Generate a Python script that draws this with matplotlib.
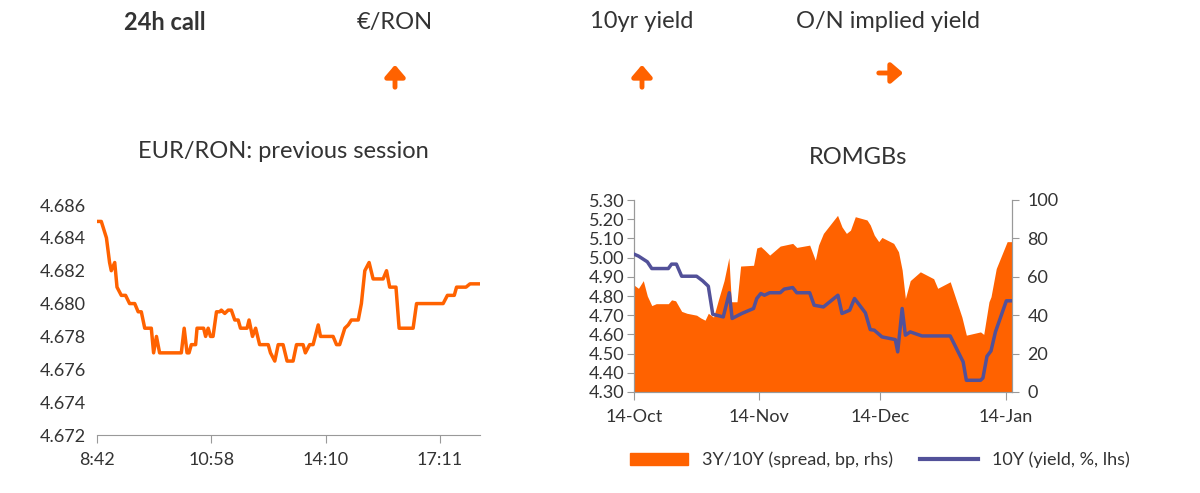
import numpy as np
import matplotlib
matplotlib.use('Agg')
import matplotlib.pyplot as plt
from matplotlib.patches import Patch, FancyArrowPatch
from matplotlib.lines import Line2D

plt.rcParams['font.family'] = ['Lato', 'DejaVu Sans']

ORANGE = '#FF6200'
BLUE = '#525199'
GREY = '#999999'
TXT = '#333333'

# EUR/RON intraday (x = tick index, ticks every 40)
eur_x = [0, 1.5, 3.3, 4.4, 5, 6.2, 7, 8.5, 9.3, 10, 11.4, 13.2, 14.4, 15.5, 16.7, 19, 19.8, 20.8,
         21.9, 29.5, 30.5, 31.5, 32.2, 33, 34.5, 35, 37.3, 38, 38.9, 39.7, 40.6, 41.8, 42.9, 43.5,
         44.7, 45.9, 47, 48.2, 49.4, 50.2, 52.5, 53.2, 54.4, 55.5, 56.9, 59.9, 60.7, 62.2, 63.4,
         65.1, 66.5, 68.6, 69.8, 72.1, 72.9, 74.4, 75.6, 77.4, 78.2, 82.6, 83.8, 84.9, 86.7, 87.9,
         89, 91.4, 92.5, 93.7, 95.2, 96.6, 100.1, 101.3, 102.4, 104.6, 105.7, 110.6, 111.8, 121.1,
         122.6, 125, 125.8, 129.1, 130.5, 133.7]
eur_y = [4.685, 4.685, 4.684, 4.6825, 4.682, 4.6825, 4.681, 4.6805, 4.6805, 4.6805, 4.680, 4.680,
         4.6795, 4.6795, 4.6785, 4.6785, 4.677, 4.678, 4.677, 4.677, 4.6785, 4.677, 4.677, 4.6775,
         4.6775, 4.6785, 4.6785, 4.678, 4.6785, 4.678, 4.678, 4.6795, 4.6795, 4.6796, 4.6794,
         4.6796, 4.6796, 4.679, 4.679, 4.6785, 4.6785, 4.679, 4.678, 4.6785, 4.6775, 4.6775,
         4.677, 4.6765, 4.6775, 4.6775, 4.6765, 4.6765, 4.6775, 4.6775, 4.677, 4.6775, 4.6775,
         4.6787, 4.678, 4.678, 4.6775, 4.6775, 4.6785, 4.6787, 4.679, 4.679, 4.680, 4.682, 4.6825,
         4.6815, 4.6815, 4.682, 4.681, 4.681, 4.6785, 4.6785, 4.680, 4.680, 4.6805, 4.6805, 4.681,
         4.681, 4.6812, 4.6812]
eur_ticks = [0, 40, 80, 120]
eur_labels = ['8:42', '10:58', '14:10', '17:11']

# ROMGBs (x = days since 14-Oct)
spr_x = [0, 1.1, 2.3, 3.3, 4.4, 5.5, 8.5, 9.3, 10.3, 11.8, 13.1, 15.5, 16.5, 17.6, 18.4, 19.7, 20.9,
         22.3, 23.5, 24.1, 25.5, 26.4, 29.6, 30.4, 31.4, 32.3, 33.6, 36.2, 39.3, 40.3, 43.5, 44.9,
         45.7, 46.9, 50.4, 51.5, 52.6, 53.6, 54.8, 57.7, 58.5, 59.5, 60.6, 61.4, 64.3, 65.5, 66.4,
         67.2, 68.4, 70.9, 74.2, 75.2, 78.3, 81.2, 82.3, 85.8, 86.6, 87.9, 88.4, 89.7, 92.4, 93.6]
spr_y = [55.7, 54, 58, 50, 45, 46, 46, 48, 47.5, 42, 41, 40, 38.6, 37.4, 41, 39, 48, 58, 70, 47, 47,
         65.6, 66, 75, 75.7, 74, 71.3, 76, 77.4, 75.3, 76.5, 68.7, 76.5, 82.6, 92, 86, 82.6, 84.3,
         91.3, 89.6, 87, 81.7, 78.3, 80.5, 77.4, 73, 63.5, 48.7, 58, 62.6, 59, 54, 57.4, 39, 29.6,
         31.3, 30, 47, 49.6, 64.3, 78.3, 78.3]
yld_x = [0, 1.1, 3.3, 4.4, 8.5, 9.3, 10.5, 11.8, 15.5, 17, 18.4, 19.5, 22.1, 23.6, 24.3, 26.7, 29.6,
         30.4, 31.4, 32.3, 33.6, 36.2, 37.2, 39.3, 40.3, 43.5, 44.6, 46.9, 50.5, 51.5, 53.4, 54.6,
         57.3, 58.5, 59.5, 61.4, 64.7, 65.3, 66.4, 67.2, 68.4, 71.3, 78.3, 81.5, 82.3, 85.8, 86.4,
         87.4, 88.4, 89.5, 92.2, 93.6]
yld_y = [5.018, 5.008, 4.978, 4.943, 4.943, 4.966, 4.966, 4.903, 4.903, 4.879, 4.851, 4.705, 4.691,
         4.817, 4.683, 4.709, 4.735, 4.787, 4.813, 4.804, 4.817, 4.817, 4.836, 4.844, 4.817, 4.817,
         4.752, 4.743, 4.804, 4.709, 4.726, 4.787, 4.712, 4.625, 4.622, 4.587, 4.573, 4.509, 4.735,
         4.596, 4.613, 4.592, 4.592, 4.457, 4.361, 4.361, 4.373, 4.486, 4.514, 4.613, 4.775, 4.775]
date_ticks = [0, 31, 61, 92]
date_labels = ['14-Oct', '14-Nov', '14-Dec', '14-Jan']

fig = plt.figure(figsize=(12, 4.93), dpi=100)

# header
fig.text(165/1200, 1-22/493, '24h call', fontsize=17, fontweight='bold', color=TXT, ha='center', va='center')
for xp, lab in [(395, '€/RON'), (642, '10yr yield'), (888, 'O/N implied yield')]:
    fig.text(xp/1200, 1-22/493, lab, fontsize=17, color=TXT, ha='center', va='center')
for x0, y0, x1, y1 in [(395, 90, 395, 62), (642, 90, 642, 62), (876, 73, 906, 73)]:
    fig.add_artist(FancyArrowPatch((x0/1200, 1-y0/493), (x1/1200, 1-y1/493),
                                   transform=fig.transFigure, arrowstyle='-|>,head_width=6,head_length=7',
                                   color=ORANGE, lw=3.5, mutation_scale=1))

fig.text(283/1200, 1-152/493, 'EUR/RON: previous session', fontsize=17, color=TXT, ha='center', va='center')
fig.text(858/1200, 1-157/493, 'ROMGBs', fontsize=17, color=TXT, ha='center', va='center')

# left chart
ax = fig.add_axes([97/1200, 58/493, 383/1200, 230/493])
ax.plot(eur_x, eur_y, color=ORANGE, lw=2.5)
ax.set_xlim(0, 134)
ax.set_ylim(4.672, 4.686)
ax.set_yticks(np.arange(4.672, 4.6861, 0.002))
ax.set_yticklabels(['%.3f' % v for v in np.arange(4.672, 4.6861, 0.002)])
ax.set_xticks(eur_ticks)
ax.set_xticklabels(eur_labels)
for s in ['top', 'right', 'left']:
    ax.spines[s].set_visible(False)
ax.spines['bottom'].set_color(GREY)
ax.tick_params(axis='y', length=0, labelsize=13, colors=TXT, pad=8)
ax.tick_params(axis='x', length=6, color=GREY, labelsize=13, labelcolor=TXT, pad=6)

# right chart
ax2 = fig.add_axes([634/1200, 101/493, 378/1200, 192/493])
ax3 = ax2.twinx()
ax3.fill_between(spr_x, 0, spr_y, color=ORANGE, lw=0)
ax3.set_ylim(0, 100)
ax2.plot(yld_x, yld_y, color=BLUE, lw=2.5, zorder=5)
ax2.set_zorder(ax3.get_zorder() + 1)
ax2.patch.set_visible(False)
ax2.set_ylim(4.30, 5.30)
ax2.set_yticks(np.arange(4.30, 5.301, 0.10))
ax2.set_yticklabels(['%.2f' % v for v in np.arange(4.30, 5.301, 0.10)])
ax2.set_xlim(0, 93.6)
ax2.set_xticks(date_ticks)
ax2.set_xticklabels(date_labels)
ax3.set_yticks(range(0, 101, 20))
for a in (ax2, ax3):
    a.spines['top'].set_visible(False)
    for s in ['left', 'right', 'bottom']:
        a.spines[s].set_color(GREY)
ax2.tick_params(axis='y', length=5, color=GREY, labelsize=13, labelcolor=TXT, pad=2)
ax2.tick_params(axis='x', length=6, color=GREY, labelsize=13, labelcolor=TXT, pad=6)
ax3.tick_params(axis='y', length=5, color=GREY, labelsize=13, labelcolor=TXT, pad=6)

handles = [Patch(color=ORANGE, label='3Y/10Y (spread, bp, rhs)'),
           Line2D([0], [0], color=BLUE, lw=3, label='10Y (yield, %, lhs)')]
fig.legend(handles=handles, loc='center', bbox_to_anchor=(880/1200, 1-460/493), ncol=2,
           frameon=False, fontsize=13, handlelength=3.2, columnspacing=1.5, labelcolor=TXT)

fig.savefig('out.png', dpi=100)
